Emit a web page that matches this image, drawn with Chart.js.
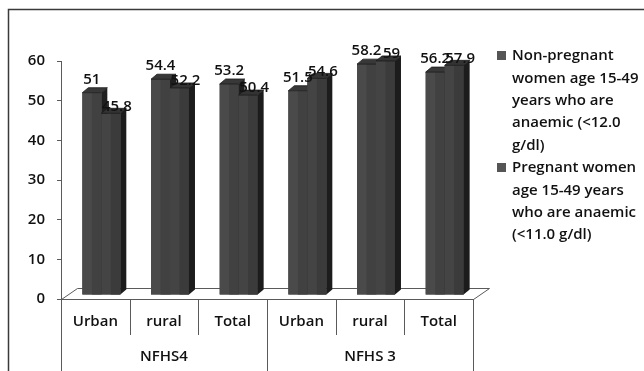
<!DOCTYPE html>
<html>
<head>
<meta charset="utf-8">
<script src="https://cdn.jsdelivr.net/npm/chart.js@4.4.1/dist/chart.umd.min.js"></script>
<style>
  html, body { margin: 0; padding: 0; background: #ffffff; }
  canvas { display: block; }
</style>
</head>
<body>
<canvas id="chart" width="644" height="371"></canvas>
<script>
// Anaemia prevalence (%) by residence, NFHS-4 vs NFHS-3
const categories = ['Urban', 'rural', 'Total', 'Urban', 'rural', 'Total'];
const surveys = ['NFHS4', 'NFHS 3'];
const nonPregnant = [51, 54.4, 53.2, 51.5, 58.2, 56.2];
const pregnant = [45.8, 52.2, 50.4, 54.6, 59, 57.9];
const yTicks = [0, 10, 20, 30, 40, 50, 60];
const seriesNames = [
  ['Non-pregnant', 'women age 15-49', 'years who are', 'anaemic (<12.0', 'g/dl)'],
  ['Pregnant women', 'age 15-49 years', 'who are anaemic', '(<11.0 g/dl)']
];

const FONT = '"Open Sans", "Noto Sans", sans-serif';
const INK = '#111111';
const LINE = '#5a5a5a';
const BAR_SHIFT = { x: 6, y: -4 };     // bars sit a little back on the floor
const BAR_DEPTH = { dx: 6, dy: -5 };   // extrusion of each box
const FLOOR_DEPTH = { dx: 16, dy: -11 };
const CATS_PER_SURVEY = 3;

const shades = [
  { front: '#4a4a4a', half: '#414141', top: '#383838', side: '#1f1f1f' },
  { front: '#444444', half: '#3b3b3b', top: '#333333', side: '#1c1c1c' }
];
const labelNudge = [{ dx: 0, dy: -13 }, { dx: 6, dy: -7 }];

function drawBox(ctx, el, c) {
  const { dx, dy } = BAR_DEPTH;
  const { x, y, base, width } = el.getProps(['x', 'y', 'base', 'width'], true);
  const l = x - width / 2, r = x + width / 2;
  ctx.fillStyle = c.front;
  ctx.fillRect(l, y, width, base - y);
  ctx.fillStyle = c.half;
  ctx.fillRect(x, y, r - x, base - y);
  ctx.fillStyle = c.top;
  ctx.beginPath();
  ctx.moveTo(l, y);
  ctx.lineTo(l + dx, y + dy);
  ctx.lineTo(r + dx, y + dy);
  ctx.lineTo(r, y);
  ctx.closePath();
  ctx.fill();
  ctx.strokeStyle = '#1a1a1a';
  ctx.lineWidth = 0.8;
  ctx.stroke();
  ctx.fillStyle = c.side;
  ctx.beginPath();
  ctx.moveTo(r, y);
  ctx.lineTo(r + dx, y + dy);
  ctx.lineTo(r + dx, base + dy);
  ctx.lineTo(r, base);
  ctx.closePath();
  ctx.fill();
}

const box3d = {
  id: 'box3d',
  beforeDatasetsDraw(chart) {
    const { ctx, chartArea: a } = chart;
    ctx.save();
    ctx.strokeStyle = LINE;
    ctx.lineWidth = 1;
    ctx.beginPath();
    ctx.moveTo(a.left + 0.5, a.bottom + 0.5);
    ctx.lineTo(a.left + FLOOR_DEPTH.dx + 0.5, a.bottom + FLOOR_DEPTH.dy + 0.5);
    ctx.lineTo(a.right + FLOOR_DEPTH.dx + 0.5, a.bottom + FLOOR_DEPTH.dy + 0.5);
    ctx.lineTo(a.right + 0.5, a.bottom + 0.5);
    ctx.lineTo(a.left + 0.5, a.bottom + 0.5);
    ctx.stroke();
    ctx.restore();
  },
  beforeDatasetDraw(chart) {
    chart.ctx.save();
    chart.ctx.translate(BAR_SHIFT.x, BAR_SHIFT.y);
  },
  afterDatasetDraw(chart) {
    chart.ctx.restore();
  },
  afterDatasetsDraw(chart) {
    const ctx = chart.ctx;
    ctx.save();
    ctx.translate(BAR_SHIFT.x, BAR_SHIFT.y);
    // boxes, left series first so each right-hand box overlaps its neighbour
    const n = chart.data.labels.length;
    for (let j = 0; j < n; j++) {
      chart.data.datasets.forEach((ds, i) => {
        drawBox(ctx, chart.getDatasetMeta(i).data[j], shades[i]);
      });
    }
    // value labels
    ctx.font = '600 15px ' + FONT;
    ctx.fillStyle = INK;
    ctx.textAlign = 'center';
    ctx.textBaseline = 'middle';
    chart.data.datasets.forEach((ds, i) => {
      chart.getDatasetMeta(i).data.forEach((el, j) => {
        ctx.fillText(String(ds.data[j]), el.x + labelNudge[i].dx, el.y + labelNudge[i].dy);
      });
    });
    ctx.restore();
  },
  afterDraw(chart) {
    const { ctx, chartArea: a } = chart;
    const H = chart.height;
    const catW = (a.right - a.left) / categories.length;
    ctx.save();
    // category and survey dividers under the floor
    ctx.strokeStyle = LINE;
    ctx.lineWidth = 1;
    ctx.beginPath();
    for (let i = 0; i <= categories.length; i++) {
      const px = Math.round(a.left + i * catW) + 0.5;
      const end = i % CATS_PER_SURVEY === 0 ? H : a.bottom + 36;
      ctx.moveTo(px, a.bottom);
      ctx.lineTo(px, end);
    }
    ctx.stroke();
    // survey labels
    ctx.font = '600 15px ' + FONT;
    ctx.fillStyle = INK;
    ctx.textAlign = 'center';
    ctx.textBaseline = 'middle';
    surveys.forEach((s, g) => {
      const x0 = a.left + g * CATS_PER_SURVEY * catW;
      const x1 = x0 + CATS_PER_SURVEY * catW;
      ctx.fillText(s, (x0 + x1) / 2, a.bottom + 58);
    });
    // legend
    const legX = 497, legY = 56, lh = 22.4;
    let row = 0;
    ctx.textAlign = 'left';
    seriesNames.forEach(lines => {
      const cy = legY + row * lh;
      ctx.fillStyle = '#555555';
      ctx.fillRect(legX, cy - 5, 9, 9);
      ctx.fillStyle = INK;
      lines.forEach((t, k) => ctx.fillText(t, legX + 15, legY + (row + k) * lh));
      row += lines.length;
    });
    // outer frame
    ctx.strokeStyle = '#3a3a3a';
    ctx.lineWidth = 1.5;
    ctx.beginPath();
    ctx.moveTo(8.5, H + 2);
    ctx.lineTo(8.5, 9.5);
    ctx.lineTo(chart.width + 2, 9.5);
    ctx.stroke();
    ctx.restore();
  }
};

new Chart(document.getElementById('chart'), {
  type: 'bar',
  data: {
    labels: categories,
    datasets: [
      { label: seriesNames[0].join(' '), data: nonPregnant, backgroundColor: shades[0].front, clip: false },
      { label: seriesNames[1].join(' '), data: pregnant, backgroundColor: shades[1].front, clip: false }
    ]
  },
  options: {
    responsive: false,
    animation: false,
    devicePixelRatio: 1,
    layout: { padding: { top: 61, right: 171, bottom: 0, left: 0 } },
    datasets: { bar: { categoryPercentage: 0.553, barPercentage: 1, borderWidth: 0 } },
    plugins: { legend: { display: false }, tooltip: { enabled: false } },
    scales: {
      x: {
        grid: { display: false, drawTicks: false },
        border: { display: false },
        ticks: { font: { family: FONT, size: 15, weight: '600' }, color: INK, padding: 14, autoSkip: false, maxRotation: 0 },
        afterFit: s => { s.height = 72; }
      },
      y: {
        min: yTicks[0],
        max: yTicks[yTicks.length - 1],
        afterBuildTicks: s => { s.ticks = yTicks.map(v => ({ value: v })); },
        grid: { drawOnChartArea: false, tickLength: 4, color: LINE },
        border: { color: LINE },
        ticks: { font: { family: FONT, size: 15, weight: '600' }, color: INK, padding: 12 },
        afterFit: s => { s.width = 61; }
      }
    }
  },
  plugins: [box3d]
});
</script>
</body>
</html>
